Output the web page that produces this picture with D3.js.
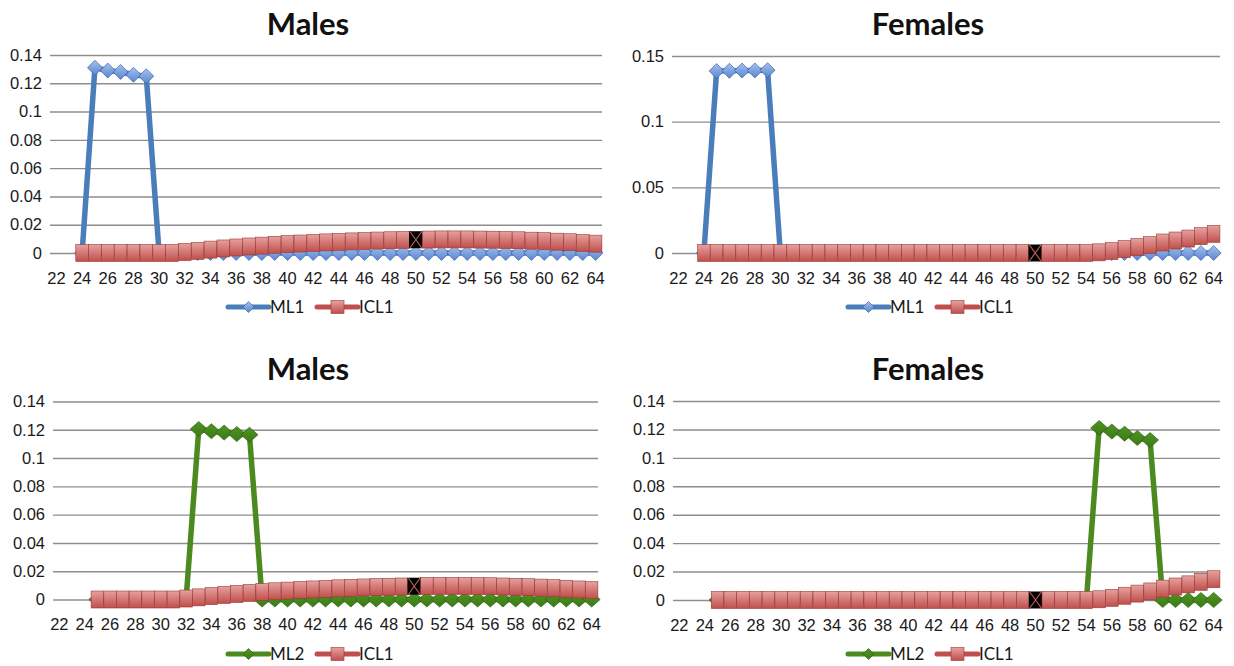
<!DOCTYPE html>
<html>
<head>
<meta charset="utf-8">
<style>
  body { margin: 0; background: #fff; }
  svg { font-family: Lato, "Open Sans", sans-serif; }
  .grid line { stroke: #8e8e8e; stroke-width: 1.4; }
  .title { font-weight: bold; font-size: 31px; fill: #111; }
  .tick text { font-size: 16.5px; fill: #1a1a1a; }
  .legend text { font-size: 17px; fill: #1a1a1a; }
</style>
</head>
<body>
<script src="https://d3js.org/d3.v7.min.js"></script>
<script>
// categories (ages) on the x axis
var ages = [22,23,24,25,26,27,28,29,30,31,32,33,34,35,36,37,38,39,40,41,42,43,
            44,45,46,47,48,49,50,51,52,53,54,55,56,57,58,59,60,61,62,63,64];
var xTickAges = [22,24,26,28,30,32,34,36,38,40,42,44,46,48,50,52,54,56,58,60,62,64];
var firstAge = 24;       // series values below start at this age
var highlightAge = 50;   // black "X" marker on ICL1

var yTicksMales = [0, 0.02, 0.04, 0.06, 0.08, 0.1, 0.12, 0.14];
var yTicksFemalesTop = [0, 0.05, 0.1, 0.15];

// ages 24..64
var maleML1 = [0, 0.131, 0.129, 0.128, 0.126, 0.125,
  0,0,0,0,0,0,0,0,0,0,0,0,0,0,0,0,0,0,0,0,0,0,0,0,0,0,0,0,0,0,0,0,0,0,0];
var femaleML1 = [0, 0.1385, 0.1387, 0.1389, 0.139, 0.1392,
  0,0,0,0,0,0,0,0,0,0,0,0,0,0,0,0,0,0,0,0,0,0,0,0,0,0,0,0,0,0,0,0,0,0,0];
var maleML2 = [null, 0,0,0,0,0,0,0,0,
  0.1205, 0.119, 0.118, 0.117, 0.1165,
  0,0,0,0,0,0,0,0,0,0,0,0,0,0,0,0,0,0,0,0,0,0,0,0,0,0,0];
var femaleML2 = [null,
  0,0,0,0,0,0,0,0,0,0,0,0,0,0,0,0,0,0,0,0,0,0,0,0,0,0,0,0,0,0,
  0.121, 0.1185, 0.117, 0.114, 0.1125,
  0,0,0,0,0];
var maleICL1 = [0,0,0,0,0,0,0,0,
  0.0007, 0.0015, 0.0024, 0.0032, 0.0039, 0.0046, 0.0052, 0.0058, 0.0063, 0.0067,
  0.0071, 0.0075, 0.0079, 0.0082, 0.0085, 0.0088, 0.009, 0.0092, 0.0094, 0.0095,
  0.0096, 0.0096, 0.0096, 0.0095, 0.0094, 0.0092, 0.009, 0.0087, 0.0084, 0.008,
  0.0076, 0.0071, 0.0066];
var femaleICL1 = [0,0,0,0,0,0,0,0,0,0,0,0,0,0,0,0,0,0,0,0,0,0,0,0,0,0,0,0,0,0,0,
  0.0005, 0.0015, 0.003, 0.0045, 0.006, 0.008, 0.0095, 0.011, 0.0128, 0.0146];
// lower charts: ICL1 starts one year later
var maleICL1b = [null].concat(maleICL1.slice(1));
var femaleICL1b = [null].concat(femaleICL1.slice(1));

var blue = {line: "#4a7ebb", top: "#a5c0ee", bottom: "#5a86d0", edge: "#3b66ad", name: "blue"};
var green = {line: "#4a8a1f", top: "#4f9424", bottom: "#3c7a16", edge: "#2f6411", name: "green"};
var red = {line: "#c0504d", top: "#e7a19e", bottom: "#bf4f4c", edge: "#983a37", name: "red"};

var svg = d3.select("body").append("svg")
    .attr("width", 1234)
    .attr("height", 666);

var defs = svg.append("defs");
[blue, green, red].forEach(function(c) {
  var g = defs.append("linearGradient")
      .attr("id", "grad-" + c.name)
      .attr("x1", 0).attr("y1", 0).attr("x2", 0).attr("y2", 1);
  g.append("stop").attr("offset", "0%").attr("stop-color", c.top);
  g.append("stop").attr("offset", "100%").attr("stop-color", c.bottom);
});

function toPoints(values) {
  return values.map(function(v, i) { return {age: firstAge + i, v: v}; })
               .filter(function(d) { return d.v != null; });
}

function diamond(sel, c, w, h) {
  sel.append("path")
    .attr("d", "M0," + (-h/2) + "L" + (w/2) + ",0L0," + (h/2) + "L" + (-w/2) + ",0Z")
    .attr("fill", "url(#grad-" + c.name + ")")
    .attr("stroke", c.edge)
    .attr("stroke-width", 0.7);
}

function square(sel, c, w, h) {
  sel.append("rect")
    .attr("x", -w/2).attr("y", -h/2)
    .attr("width", w).attr("height", h)
    .attr("fill", "url(#grad-" + c.name + ")")
    .attr("stroke", c.edge)
    .attr("stroke-width", 0.6);
}

function drawChart(cfg) {
  var x = d3.scaleBand().domain(ages).range(cfg.xr);
  var y = d3.scaleLinear().domain([0, cfg.yTicks[cfg.yTicks.length - 1]]).range(cfg.yr);
  var cx = function(d) { return x(d.age) + x.bandwidth() / 2; };
  var g = svg.append("g");

  g.append("text").attr("class", "title")
    .attr("x", cfg.titleX).attr("y", cfg.titleY)
    .attr("text-anchor", "middle")
    .text(cfg.title);

  g.append("g").attr("class", "grid")
    .attr("transform", "translate(" + cfg.xr[0] + ",0)")
    .call(d3.axisLeft(y).tickValues(cfg.yTicks)
      .tickSize(-(cfg.xr[1] - cfg.xr[0])).tickPadding(8)
      .tickFormat(d3.format("~g")))
    .call(function(a) { a.select(".domain").remove(); });

  g.append("g")
    .attr("transform", "translate(0," + cfg.yr[0] + ")")
    .call(d3.axisBottom(x).tickValues(xTickAges).tickSize(0).tickPadding(19))
    .call(function(a) { a.select(".domain").remove(); });

  var line = d3.line().x(cx).y(function(d) { return y(d.v); });

  // ML series (under)
  var ml = toPoints(cfg.ml);
  g.append("path").datum(ml)
    .attr("fill", "none").attr("stroke", cfg.mlColor.line)
    .attr("stroke-width", 5.5).attr("stroke-linejoin", "round")
    .attr("d", line);
  g.selectAll(".mlm").data(ml).enter().append("g")
    .attr("transform", function(d) { return "translate(" + cx(d) + "," + y(d.v) + ")"; })
    .each(function() { diamond(d3.select(this), cfg.mlColor, cfg.dw, 15); });

  // ICL1 series (over)
  var icl = toPoints(cfg.icl);
  g.append("path").datum(icl)
    .attr("fill", "none").attr("stroke", red.line)
    .attr("stroke-width", 5.5)
    .attr("d", line);
  var sq = g.selectAll(".iclm").data(icl).enter().append("g")
    .attr("transform", function(d) { return "translate(" + cx(d) + "," + y(d.v) + ")"; });
  var bw = x.bandwidth() - 0.2;
  sq.filter(function(d) { return d.age !== highlightAge; })
    .each(function() { square(d3.select(this), red, bw, 17); });
  var hx = sq.filter(function(d) { return d.age === highlightAge; });
  hx.append("rect").attr("x", -bw/2 - 0.5).attr("y", -8.5).attr("width", bw + 1).attr("height", 17)
    .attr("fill", "#000");
  hx.append("path")
    .attr("d", "M" + (-bw/2+0.5) + ",-8L" + (bw/2-0.5) + ",8M" + (bw/2-0.5) + ",-8L" + (-bw/2+0.5) + ",8")
    .attr("stroke", "#c8605a").attr("stroke-width", 1.1);

  // legend
  var lg = g.append("g").attr("class", "legend")
    .attr("transform", "translate(" + cfg.legX + "," + cfg.legY + ")");
  var items = [
    {label: cfg.mlName, c: cfg.mlColor, shape: "diamond", x: 0},
    {label: "ICL1", c: red, shape: "square", x: 89}
  ];
  items.forEach(function(it) {
    var ig = lg.append("g").attr("transform", "translate(" + it.x + ",0)");
    ig.append("line").attr("x1", 0).attr("x2", 41).attr("y1", 0).attr("y2", 0)
      .attr("stroke", it.c.line).attr("stroke-width", 5).attr("stroke-linecap", "round");
    var m = ig.append("g").attr("transform", "translate(20.5,0)");
    if (it.shape === "diamond") diamond(m, it.c, 11, 11);
    else square(m, it.c, 13, 13);
    ig.append("text").attr("x", 42).attr("y", 6).text(it.label);
  });
}

drawChart({title: "Males", titleX: 308, titleY: 35,
  xr: [50, 602], yr: [253, 55], yTicks: yTicksMales,
  ml: maleML1, mlName: "ML1", mlColor: blue, dw: 15, icl: maleICL1,
  legX: 228, legY: 307});
drawChart({title: "Females", titleX: 928, titleY: 35,
  xr: [672, 1220], yr: [253, 56], yTicks: yTicksFemalesTop,
  ml: femaleML1, mlName: "ML1", mlColor: blue, dw: 15, icl: femaleICL1,
  legX: 848, legY: 307});
drawChart({title: "Males", titleX: 308, titleY: 380,
  xr: [53, 598], yr: [599.5, 401.5], yTicks: yTicksMales,
  ml: maleML2, mlName: "ML2", mlColor: green, dw: 17, icl: maleICL1b,
  legX: 228, legY: 654});
drawChart({title: "Females", titleX: 928, titleY: 380,
  xr: [673, 1220], yr: [600, 401], yTicks: yTicksMales,
  ml: femaleML2, mlName: "ML2", mlColor: green, dw: 17, icl: femaleICL1b,
  legX: 848, legY: 654});
</script>
</body>
</html>
